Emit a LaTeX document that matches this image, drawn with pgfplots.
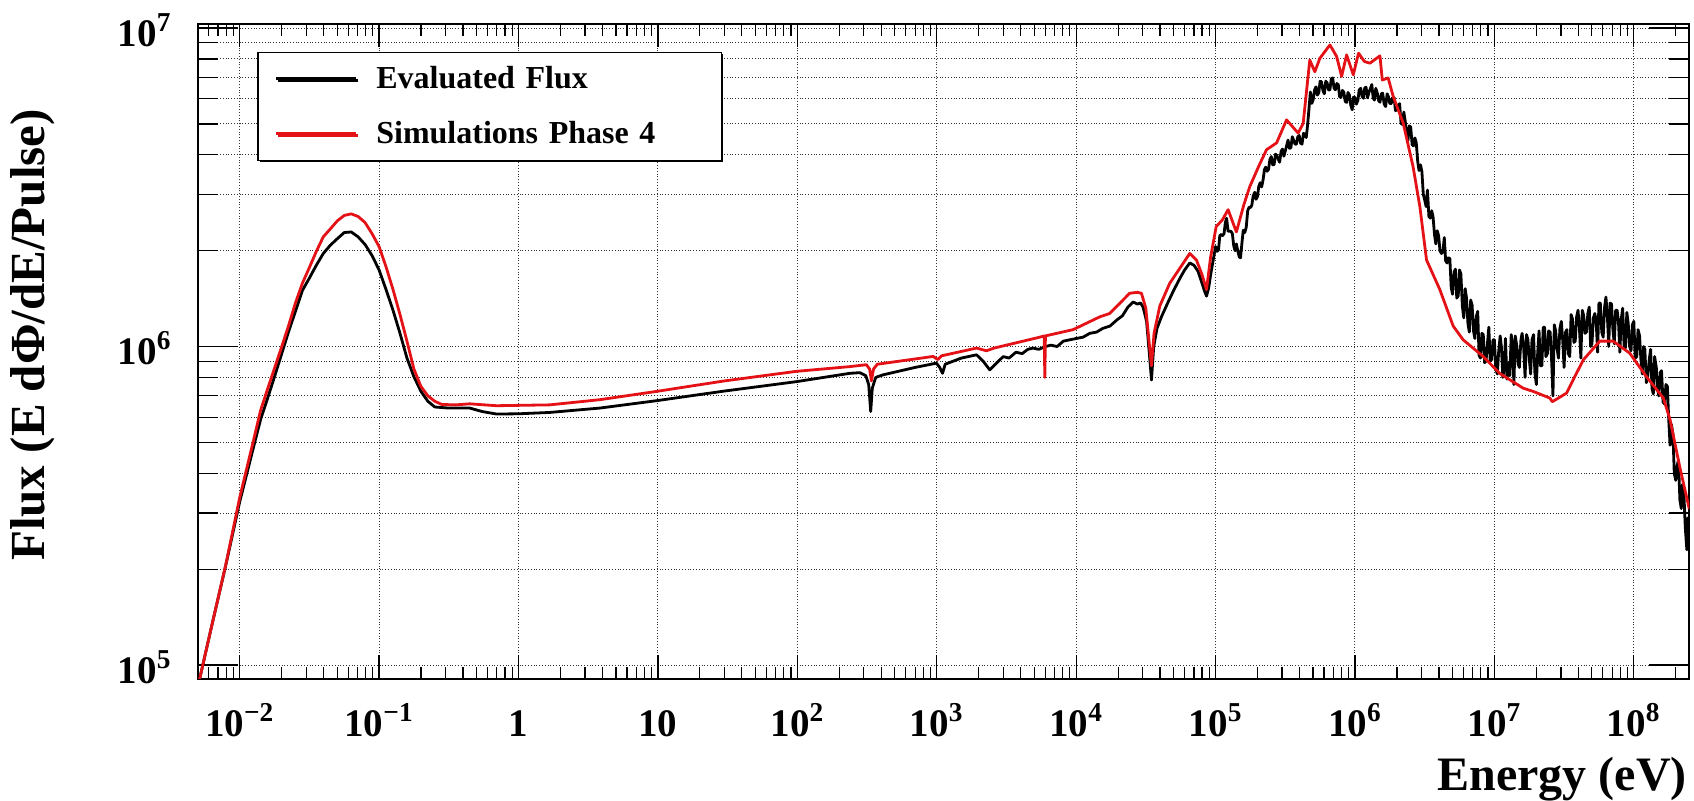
\documentclass[border=0pt]{standalone}
\usepackage{fontspec}
\setmainfont{Liberation Serif}
\usepackage{pgfplots}
\usepackage{pgfplotstable}
\pgfplotsset{compat=1.18}
\usetikzlibrary{shadows}
\definecolor{simred}{RGB}{228,18,22}

% Evaluated neutron flux (E dPhi/dE per pulse)
\pgfplotstableread{
E F
5.0e-3 8.5e4
6.31e-3 1.33e5
7.94e-3 2.05e5
1.0e-2 3.25e5
1.26e-2 4.85e5
1.413e-2 5.9e5
1.585e-2 6.87e5
1.778e-2 8.04e5
1.995e-2 9.44e5
2.239e-2 1.11e6
2.512e-2 1.29e6
2.818e-2 1.50e6
3.162e-2 1.64e6
3.548e-2 1.80e6
3.981e-2 1.96e6
4.467e-2 2.08e6
5.012e-2 2.18e6
5.623e-2 2.28e6
6.310e-2 2.29e6
7.079e-2 2.21e6
7.943e-2 2.09e6
8.913e-2 1.93e6
0.1 1.74e6
0.1122 1.51e6
0.1259 1.30e6
0.1413 1.10e6
0.1585 9.2e5
0.1778 8.04e5
0.1995 7.24e5
0.2239 6.73e5
0.2512 6.46e5
0.3162 6.41e5
0.447 6.41e5
0.55 6.25e5
0.695 6.14e5
1.0 6.15e5
1.67 6.21e5
3.83 6.41e5
9.75 6.76e5
30 7.25e5
98.6 7.76e5
238 8.24e5
281 8.28e5
310 8.1e5
325 7.6e5
336 6.25e5
345 7.4e5
365 8.0e5
412 8.15e5
700 8.6e5
995 8.87e5
1050 8.6e5
1100 8.24e5
1150 8.8e5
1500 9.2e5
1930 9.42e5
2150 9.0e5
2400 8.45e5
2700 8.9e5
3000 9.3e5
3300 9.2e5
3700 9.6e5
4100 9.5e5
4500 9.8e5
4900 9.89e5
5400 9.8e5
6000 1.0e6
6600 1.01e6
7300 1.0e6
8100 1.04e6
9000 1.05e6
1.0e4 1.06e6
1.12e4 1.07e6
1.25e4 1.1e6
1.4e4 1.11e6
1.55e4 1.14e6
1.75e4 1.16e6
1.95e4 1.21e6
2.15e4 1.25e6
2.35e4 1.33e6
2.56e4 1.38e6
2.75e4 1.36e6
2.9e4 1.37e6
3.02e4 1.33e6
3.2e4 1.2e6
3.35e4 9.5e5
3.47e4 7.85e5
3.6e4 1.0e6
3.8e4 1.14e6
4.09e4 1.24e6
4.5e4 1.36e6
5.0e4 1.5e6
5.6e4 1.65e6
6.0e4 1.74e6
6.53e4 1.83e6
7.0e4 1.8e6
7.5e4 1.72e6
8.0e4 1.58e6
8.3e4 1.5e6
8.61e4 1.44e6
8.9e4 1.52e6
9.3e4 1.72e6
9.6e4 1.86e6
1.00e5 2.06e6
1.023e5 1.99e6
1.05e5 2.01e6
1.072e5 2.23e6
1.10e5 2.25e6
1.122e5 2.23e6
1.15e5 2.26e6
1.175e5 2.45e6
1.20e5 2.53e6
1.23e5 2.30e6
1.26e5 2.30e6
1.29e5 2.30e6
1.32e5 2.26e6
1.35e5 2.07e6
1.38e5 2.00e6
1.41e5 2.10e6
1.45e5 1.98e6
1.48e5 1.91e6
1.51e5 1.90e6
1.55e5 2.14e6
1.58e5 2.32e6
1.62e5 2.28e6
1.66e5 2.37e6
1.70e5 2.67e6
1.74e5 2.74e6
1.78e5 2.73e6
1.82e5 2.78e6
1.86e5 2.97e6
1.91e5 3.05e6
1.95e5 2.90e6
2.00e5 2.96e6
2.04e5 3.18e6
2.09e5 3.27e6
2.14e5 3.17e6
2.19e5 3.33e6
2.24e5 3.59e6
2.29e5 3.66e6
2.34e5 3.55e6
2.40e5 3.60e6
2.45e5 3.86e6
2.51e5 3.95e6
2.57e5 3.72e6
2.63e5 3.73e6
2.69e5 4.02e6
2.75e5 3.98e6
2.82e5 3.87e6
2.88e5 3.79e6
2.95e5 4.10e6
3.02e5 4.17e6
3.09e5 3.96e6
3.16e5 4.11e6
3.24e5 4.29e6
3.31e5 4.45e6
3.39e5 4.19e6
3.47e5 4.21e6
3.55e5 4.56e6
3.63e5 4.45e6
3.72e5 4.32e6
3.80e5 4.32e6
3.89e5 4.56e6
3.98e5 4.60e6
4.07e5 4.35e6
4.17e5 4.32e6
4.27e5 4.67e6
4.37e5 4.64e6
4.47e5 4.53e6
4.57e5 4.95e6
4.68e5 5.60e6
4.79e5 6.30e6
4.90e5 5.80e6
5.01e5 5.95e6
5.13e5 6.39e6
5.25e5 6.54e6
5.37e5 6.16e6
5.50e5 6.26e6
5.62e5 6.80e6
5.75e5 6.79e6
5.89e5 6.36e6
6.03e5 6.22e6
6.17e5 6.81e6
6.31e5 6.73e6
6.46e5 6.39e6
6.61e5 6.40e6
6.76e5 6.94e6
6.92e5 6.97e6
7.08e5 6.47e6
7.24e5 6.40e6
7.41e5 6.70e6
7.59e5 6.64e6
7.76e5 6.08e6
7.94e5 6.06e6
8.13e5 6.37e6
8.32e5 6.29e6
8.51e5 5.88e6
8.71e5 5.84e6
8.91e5 6.28e6
9.12e5 6.16e6
9.33e5 5.72e6
9.55e5 5.54e6
9.77e5 6.07e6
1.00e6 6.05e6
1.023e6 5.77e6
1.05e6 5.94e6
1.072e6 6.40e6
1.10e6 6.47e6
1.122e6 6.11e6
1.15e6 6.02e6
1.175e6 6.49e6
1.20e6 6.52e6
1.23e6 6.04e6
1.26e6 6.29e6
1.29e6 6.46e6
1.32e6 6.65e6
1.35e6 6.03e6
1.38e6 5.94e6
1.41e6 6.47e6
1.45e6 6.22e6
1.48e6 5.91e6
1.51e6 5.85e6
1.55e6 6.23e6
1.58e6 6.24e6
1.62e6 5.77e6
1.66e6 5.67e6
1.70e6 6.22e6
1.74e6 6.08e6
1.78e6 5.79e6
1.82e6 5.80e6
1.86e6 6.05e6
1.91e6 6.05e6
1.95e6 5.51e6
2.00e6 5.53e6
2.04e6 5.72e6
2.09e6 5.79e6
2.14e6 5.02e6
2.19e6 4.98e6
2.24e6 5.45e6
2.29e6 5.12e6
2.34e6 4.70e6
2.40e6 4.44e6
2.45e6 4.93e6
2.51e6 4.89e6
2.57e6 4.30e6
2.63e6 4.27e6
2.69e6 4.52e6
2.75e6 4.37e6
2.82e6 3.80e6
2.88e6 3.57e6
2.95e6 3.72e6
3.02e6 3.54e6
3.09e6 3.01e6
3.16e6 2.89e6
3.24e6 2.75e6
3.31e6 3.10e6
3.39e6 2.56e6
3.47e6 2.53e6
3.55e6 2.67e6
3.63e6 2.56e6
3.72e6 2.24e6
3.80e6 2.10e6
3.89e6 2.31e6
3.98e6 2.23e6
4.07e6 2.00e6
4.17e6 1.96e6
4.27e6 1.98e6
4.37e6 2.20e6
4.47e6 1.86e6
4.57e6 1.83e6
4.68e6 1.90e6
4.79e6 1.89e6
4.90e6 1.53e6
5.01e6 1.46e6
5.13e6 1.71e6
5.25e6 1.75e6
5.37e6 1.42e6
5.50e6 1.44e6
5.62e6 1.74e6
5.75e6 1.69e6
5.89e6 1.34e6
6.03e6 1.23e6
6.17e6 1.52e6
6.31e6 1.42e6
6.46e6 1.18e6
6.61e6 1.11e6
6.76e6 1.40e6
6.92e6 1.35e6
7.08e6 1.12e6
7.24e6 1.06e6
7.41e6 1.24e6
7.59e6 1.29e6
7.76e6 9.4e5
7.94e6 9.2e5
8.13e6 1.10e6
8.32e6 1.09e6
8.51e6 8.9e5
8.71e6 9.0e5
8.91e6 1.02e6
9.12e6 1.15e6
9.33e6 9.0e5
9.55e6 9.1e5
9.77e6 1.05e6
1.00e7 1.05e6
1.023e7 8.5e5
1.05e7 8.2e5
1.072e7 9.6e5
1.10e7 1.08e6
1.122e7 1.00e6
1.15e7 8.0e5
1.175e7 8.6e5
1.20e7 1.06e6
1.23e7 7.9e5
1.26e7 8.9e5
1.29e7 8.1e5
1.32e7 1.09e6
1.35e7 1.00e6
1.38e7 7.6e5
1.41e7 1.08e6
1.45e7 1.00e6
1.48e7 8.8e5
1.51e7 8.6e5
1.55e7 1.05e6
1.58e7 1.10e6
1.62e7 1.00e6
1.66e7 8.0e5
1.70e7 1.09e6
1.74e7 1.05e6
1.78e7 9.1e5
1.82e7 8.2e5
1.86e7 1.05e6
1.91e7 1.09e6
1.95e7 8.3e5
2.00e7 7.6e5
2.04e7 9.4e5
2.09e7 1.12e6
2.14e7 8.7e5
2.19e7 8.7e5
2.24e7 1.15e6
2.29e7 1.15e6
2.34e7 9.3e5
2.40e7 9.5e5
2.45e7 1.12e6
2.51e7 1.11e6
2.57e7 9.2e5
2.63e7 7.0e5
2.69e7 1.17e6
2.75e7 1.12e6
2.82e7 9.8e5
2.88e7 9.2e5
2.95e7 1.14e6
3.02e7 1.20e6
3.09e7 1.05e6
3.16e7 8.6e5
3.24e7 1.11e6
3.31e7 1.13e6
3.39e7 9.5e5
3.47e7 9.3e5
3.55e7 1.26e6
3.63e7 1.22e6
3.72e7 1.03e6
3.80e7 1.04e6
3.89e7 1.24e6
3.98e7 1.30e6
4.07e7 1.15e6
4.17e7 9.2e5
4.27e7 1.30e6
4.37e7 1.25e6
4.47e7 1.10e6
4.57e7 1.11e6
4.68e7 1.27e6
4.79e7 1.33e6
4.90e7 1.00e6
5.01e7 1.02e6
5.13e7 1.23e6
5.25e7 1.27e6
5.37e7 1.20e6
5.50e7 9.6e5
5.62e7 1.37e6
5.75e7 1.37e6
5.89e7 1.11e6
6.03e7 1.07e6
6.17e7 1.33e6
6.31e7 1.43e6
6.46e7 1.25e6
6.61e7 1.00e6
6.76e7 1.37e6
6.92e7 1.36e6
7.08e7 1.13e6
7.24e7 1.02e6
7.41e7 1.30e6
7.59e7 1.30e6
7.76e7 1.20e6
7.94e7 9.6e5
8.13e7 1.22e6
8.32e7 1.32e6
8.51e7 1.01e6
8.71e7 9.9e5
8.91e7 1.28e6
9.12e7 1.18e6
9.33e7 1.00e6
9.55e7 9.7e5
9.77e7 1.17e6
1.00e8 1.20e6
1.023e8 9.2e5
1.05e8 9.3e5
1.072e8 1.13e6
1.10e8 1.08e6
1.122e8 9.2e5
1.15e8 8.2e5
1.175e8 1.00e6
1.20e8 9.8e5
1.23e8 7.7e5
1.26e8 8.1e5
1.29e8 9.1e5
1.32e8 9.8e5
1.35e8 7.4e5
1.38e8 7.1e5
1.41e8 9.3e5
1.45e8 8.6e5
1.48e8 7.4e5
1.51e8 7.0e5
1.55e8 8.3e5
1.58e8 8.4e5
1.62e8 6.7e5
1.66e8 6.6e5
1.70e8 7.6e5
1.74e8 7.5e5
1.78e8 5.9e5
1.82e8 4.9e5
1.86e8 5.7e5
1.91e8 5.3e5
1.95e8 4.0e5
2.00e8 3.8e5
2.04e8 4.2e5
2.09e8 4.4e5
2.14e8 3.3e5
2.19e8 3.1e5
2.24e8 3.7e5
2.29e8 3.4e5
2.34e8 2.7e5
2.40e8 2.3e5
2.45e8 2.9e5
2.51e8 2.7e5
}\evaluated

% Simulated flux, phase 4
\pgfplotstableread{
E F
5.0e-3 8.5e4
6.31e-3 1.33e5
7.94e-3 2.06e5
1.0e-2 3.35e5
1.26e-2 5.1e5
1.413e-2 6.3e5
1.585e-2 7.35e5
1.778e-2 8.55e5
1.995e-2 9.93e5
2.239e-2 1.16e6
2.512e-2 1.37e6
2.818e-2 1.58e6
3.162e-2 1.77e6
3.548e-2 1.99e6
3.981e-2 2.21e6
4.467e-2 2.34e6
5.012e-2 2.48e6
5.623e-2 2.58e6
6.310e-2 2.61e6
7.079e-2 2.56e6
7.943e-2 2.45e6
8.913e-2 2.26e6
0.1 2.06e6
0.1122 1.78e6
0.1259 1.51e6
0.1413 1.26e6
0.1585 1.04e6
0.1778 8.5e5
0.1995 7.5e5
0.2239 7.0e5
0.2512 6.73e5
0.2818 6.58e5
0.3548 6.56e5
0.447 6.61e5
0.695 6.52e5
1.67 6.56e5
3.83 6.81e5
9.75 7.23e5
30 7.8e5
98.6 8.36e5
238 8.65e5
313 8.77e5
330 8.5e5
340 7.8e5
352 8.5e5
375 8.8e5
942 9.31e5
1020 9.1e5
1080 9.35e5
1930 9.89e5
2270 9.7e5
2600 9.9e5
5480 1.07e6
5900 1.08e6
5960 8.0e5
6020 1.08e6
9500 1.13e6
1.48e4 1.24e6
1.74e4 1.27e6
2.42e4 1.47e6
2.75e4 1.48e6
2.94e4 1.47e6
3.16e4 1.32e6
3.31e4 1.07e6
3.47e4 8.7e5
3.62e4 1.1e6
3.98e4 1.34e6
4.69e4 1.58e6
6.53e4 1.96e6
7.29e4 1.87e6
8.0e4 1.68e6
8.61e4 1.51e6
9.2e4 1.9e6
1.01e5 2.38e6
1.12e5 2.5e6
1.23e5 2.69e6
1.41e5 2.29e6
1.6e5 2.8e6
1.76e5 3.18e6
2.05e5 3.7e6
2.32e5 4.15e6
2.74e5 4.36e6
3.23e5 5.15e6
3.91e5 4.68e6
4.25e5 5.02e6
4.74e5 7.94e6
5.15e5 7.29e6
5.6e5 8.04e6
6.61e5 8.85e6
7.38e5 8.15e6
8.02e5 7.05e6
8.71e5 8.24e6
9.72e5 7.13e6
1.06e6 8.34e6
1.17e6 7.85e6
1.28e6 7.76e6
1.51e6 8.18e6
1.57e6 6.87e6
1.73e6 6.97e6
1.88e6 6.10e6
2.22e6 5.02e6
2.61e6 3.67e6
2.92e6 2.75e6
3.26e6 1.87e6
4.06e6 1.51e6
5.06e6 1.16e6
5.97e6 1.05e6
8.3e6 9.31e5
1.09e7 8.24e5
1.61e7 7.40e5
1.9e7 7.23e5
2.5e7 6.89e5
2.6e7 6.71e5
3.29e7 7.14e5
4.34e7 9.08e5
5.7e7 1.04e6
7.11e7 1.04e6
9.35e7 9.53e5
1.23e8 8.05e5
1.63e8 6.89e5
1.82e8 5.89e5
2.14e8 4.17e5
2.5e8 3.09e5
}\simulated

\begin{document}
\begin{tikzpicture}
\path[use as bounding box] (-98.85pt,-60.65pt) rectangle (748.15pt,339.35pt);
\begin{axis}[
  at={(0pt,0pt)}, anchor=south west,
  scale only axis, width=745.8pt, height=327.35pt,
  xmode=log, ymode=log,
  xmin=5e-3, xmax=2.5e8, ymin=9.06e4, ymax=1.03e7,
  axis line style={line width=1pt},
  xtick={1e-2,1e-1,1,10,100,1e3,1e4,1e5,1e6,1e7,1e8},
  xticklabels={10\textsuperscript{−2},10\textsuperscript{−1},1,10,10\textsuperscript{2},10\textsuperscript{3},10\textsuperscript{4},10\textsuperscript{5},10\textsuperscript{6},10\textsuperscript{7},10\textsuperscript{8}},
  minor xtick={6e-3,7e-3,8e-3,9e-3,
    2e-2,3e-2,4e-2,5e-2,6e-2,7e-2,8e-2,9e-2,
    0.2,0.3,0.4,0.5,0.6,0.7,0.8,0.9,
    2,3,4,5,6,7,8,9,
    20,30,40,50,60,70,80,90,
    200,300,400,500,600,700,800,900,
    2e3,3e3,4e3,5e3,6e3,7e3,8e3,9e3,
    2e4,3e4,4e4,5e4,6e4,7e4,8e4,9e4,
    2e5,3e5,4e5,5e5,6e5,7e5,8e5,9e5,
    2e6,3e6,4e6,5e6,6e6,7e6,8e6,9e6,
    2e7,3e7,4e7,5e7,6e7,7e7,8e7,9e7,
    2e8},
  ytick={1e5,1e6,1e7},
  yticklabels={10\textsuperscript{5},10\textsuperscript{6},10\textsuperscript{7}},
  minor ytick={2e5,3e5,4e5,5e5,6e5,7e5,8e5,9e5,
    2e6,3e6,4e6,5e6,6e6,7e6,8e6,9e6},
  xmajorgrids, ymajorgrids, yminorgrids,
  major grid style={black!80, line width=0.5pt, dash pattern=on 0.5pt off 0.9pt},
  minor grid style={black!80, line width=0.5pt, dash pattern=on 0.5pt off 0.9pt},
  tick style={black, line width=0.6pt},
  x tick style={/pgfplots/major tick length=11.8pt, /pgfplots/minor tick length=6pt},
  y tick style={/pgfplots/major tick length=20pt, /pgfplots/minor tick length=10pt},
  ticklabel style={font=\bfseries\fontsize{19.5}{20}\selectfont, inner sep=0pt},
  xticklabel style={anchor=base, yshift=-29pt},
  yticklabel style={anchor=base east, xshift=-12.85pt, yshift=-9.15pt},
  xlabel={Energy (eV)},
  ylabel={Flux (E dΦ/dE/Pulse)},
  every axis x label/.style={at={(axis description cs:1,0)}, anchor=base east,
    yshift=-56pt, xshift=-1pt, inner sep=0pt,
    font=\bfseries\fontsize{24}{24}\selectfont},
  every axis y label/.style={at={(axis description cs:-0.1104,0.525)}, rotate=90,
    anchor=center, inner sep=0pt, font=\bfseries\fontsize{24.5}{24.5}\selectfont},
  legend cell align=left,
  legend image code/.code={\draw[#1] (0pt,0pt) -- (40pt,0pt);},
  legend style={at={(axis description cs:0.04,0.9577)}, anchor=north west,
    draw=black, line width=0.6pt, fill=white,
    inner xsep=8.4pt, inner ysep=6.3pt, row sep=13.5pt, column sep=9.4pt,
    font=\bfseries\fontsize{16}{16}\selectfont,
    nodes={inner sep=0pt, text height=12pt, text depth=2pt, text width=164pt},
    drop shadow={shadow xshift=1pt, shadow yshift=-1pt, fill=black, opacity=1}},
]
\addplot[black, line width=1.4pt, line join=round] table[x=E, y=F] {\evaluated};
\addlegendentry{Evaluated Flux}
\addplot[simred, line width=1.4pt, line join=round] table[x=E, y=F] {\simulated};
\addlegendentry{Simulations Phase 4}
\end{axis}
\end{tikzpicture}
\end{document}
